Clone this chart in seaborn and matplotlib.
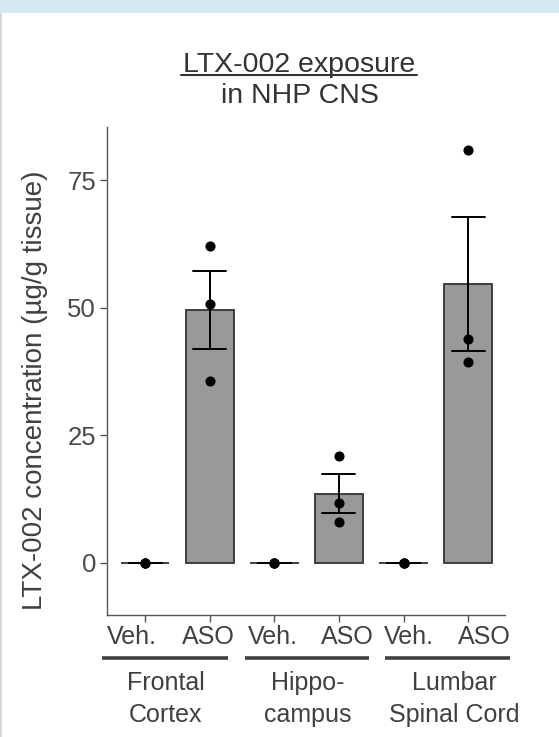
import matplotlib
matplotlib.use("Agg")
import matplotlib.pyplot as plt
import seaborn as sns
import pandas as pd
from matplotlib.lines import Line2D
from matplotlib.patches import Rectangle

# ---------------- data ----------------
groups = ["Frontal\nCortex", "Hippo-\ncampus", "Lumbar\nSpinal Cord"]
treatments = ["Veh.", "ASO"]
veh_fc = [0.0, 0.0, 0.0]
aso_fc = [62.0, 50.8, 35.7]
veh_hc = [0.0, 0.0, 0.0]
aso_hc = [21.0, 11.7, 8.0]
veh_lsc = [0.0, 0.0, 0.0]
aso_lsc = [80.8, 43.8, 39.4]
y_ticks = [0, 25, 50, 75]
title_line1 = "LTX-002 exposure"
title_line2 = "in NHP CNS"
y_label = "LTX-002 concentration (µg/g tissue)"

series = [veh_fc, aso_fc, veh_hc, aso_hc, veh_lsc, aso_lsc]
keys = []
rows = []
for gi, g in enumerate(groups):
    for ti, t in enumerate(treatments):
        k = f"{g}|{t}"
        keys.append(k)
        for v in series[gi * 2 + ti]:
            rows.append({"cond": k, "value": v})
df = pd.DataFrame(rows)

# ---------------- figure ----------------
sns.set_theme(style="white")
plt.rcParams["font.family"] = ["Liberation Sans", "DejaVu Sans"]
W, H = 559, 737
fig = plt.figure(figsize=(W / 100, H / 100), dpi=100)
fig.patch.set_facecolor("white")

# slide decorations
fig.patches.append(Rectangle((0, 1 - 13 / H), 1, 13 / H, transform=fig.transFigure,
                             facecolor="#d5e9f0", edgecolor="none", zorder=0))
fig.patches.append(Rectangle((0, 0), 2 / W, 1 - 13 / H, transform=fig.transFigure,
                             facecolor="#d9d9d9", edgecolor="none", zorder=0))

ax = fig.add_axes([107 / W, 1 - 615 / H, (505 - 107) / W, (615 - 127) / H])

txt = "#404040"
sns.barplot(data=df, x="cond", y="value", order=keys, color="#999999",
            saturation=1, width=0.75, errorbar="se", capsize=0.51,
            err_kws={"color": "black", "linewidth": 1.4},
            edgecolor="#333333", linewidth=1.3, ax=ax)
sns.stripplot(data=df, x="cond", y="value", order=keys, color="black",
              jitter=False, size=7.3, zorder=5, ax=ax)

ax.set_xlim(-0.59, 5.57)
ax.set_ylim(-10.2, 85.4)
ax.set_yticks(y_ticks)
ax.set_yticklabels([str(t) for t in y_ticks], fontsize=18.5, color="#4a4a4a")
ax.set_xticks(range(len(keys)))
ax.set_xticklabels([])
ax.set_xlabel("")
ax.set_ylabel("")
for s in ["top", "right"]:
    ax.spines[s].set_visible(False)
for s in ["left", "bottom"]:
    ax.spines[s].set_color("#555555")
    ax.spines[s].set_linewidth(1.0)
ax.tick_params(axis="both", which="both", length=5, width=1, color="#555555",
               left=True, bottom=True, pad=3)

# y label
fig.text(35 / W, 1 - 390 / H, y_label, rotation=90, ha="center", va="center",
         fontsize=20, color=txt)

# x tick labels (placed like the slide)
tick_label_x = [132, 208, 273, 347, 409, 484]
for i, k in enumerate(keys):
    fig.text(tick_label_x[i] / W, 1 - 644 / H, k.split("|")[1], ha="center",
             va="baseline", fontsize=18, color=txt)

# group lines and labels
group_spans = [(102, 228), (245, 369), (385, 510)]
group_label_x = [166, 308, 454]
for (x0, x1), gx, g in zip(group_spans, group_label_x, groups):
    fig.add_artist(Line2D([x0 / W, x1 / W], [1 - 658 / H, 1 - 658 / H],
                          transform=fig.transFigure, color="#404040", linewidth=2.6,
                          solid_capstyle="butt"))
    l1, l2 = g.split("\n")
    fig.text(gx / W, 1 - 690 / H, l1, ha="center", va="baseline", fontsize=18,
             color=txt)
    fig.text(gx / W, 1 - 722 / H, l2, ha="center", va="baseline", fontsize=18,
             color=txt)

# title
fig.text(299 / W, 1 - 72 / H, title_line1, ha="center", va="baseline",
         fontsize=20.5, color="#333333")
fig.add_artist(Line2D([181 / W, 417 / W], [1 - 75 / H, 1 - 75 / H],
                      transform=fig.transFigure, color="#333333", linewidth=1.5))
fig.text(300 / W, 1 - 103 / H, title_line2, ha="center", va="baseline",
         fontsize=20.5, color="#333333")

fig.savefig("out.png", dpi=100, facecolor="white")
